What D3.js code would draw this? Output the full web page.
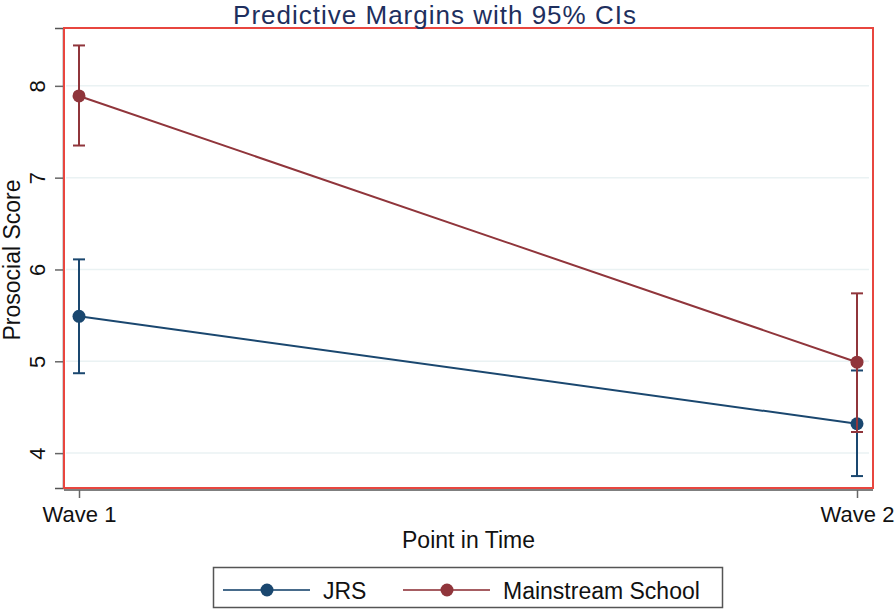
<!DOCTYPE html>
<html>
<head>
<meta charset="utf-8">
<script src="https://cdn.jsdelivr.net/npm/d3@7"></script>
<style>
  body { margin: 0; background: #fff; }
  text { font-family: "Liberation Sans", Arial, sans-serif; }
</style>
</head>
<body>
<div id="chart"></div>
<script>
// data
var waves = ['Wave 1', 'Wave 2'];
var seriesNames = ['JRS', 'Mainstream School'];
var jrsMean = [5.49, 4.32];
var jrsLow = [4.87, 3.75];
var jrsHigh = [6.11, 4.90];
var msMean = [7.89, 4.99];
var msLow = [7.35, 4.23];
var msHigh = [8.44, 5.74];
var yTicks = [4, 5, 6, 7, 8];

var colors = ['#1a476f', '#90353b'];

var width = 896, height = 612;
var box = { left: 64, right: 873, top: 28, bottom: 488 };

var svg = d3.select('#chart').append('svg')
    .attr('width', width)
    .attr('height', height);

var x = d3.scalePoint()
    .domain(waves)
    .range([79, 857]);

var y = d3.scaleLinear()
    .domain([3.62, 8.63])
    .range([box.bottom, box.top]);

// gridlines
svg.append('g')
    .selectAll('line')
    .data(yTicks)
    .enter().append('line')
    .attr('x1', box.left + 2)
    .attr('x2', box.right - 4)
    .attr('y1', function (d) { return y(d); })
    .attr('y2', function (d) { return y(d); })
    .attr('stroke', '#eaf2f3')
    .attr('stroke-width', 1.5);

// y axis
var yAxis = svg.append('g')
    .attr('transform', 'translate(' + (box.left - 1) + ',0)')
    .call(d3.axisLeft(y).tickValues(yTicks).tickFormat(d3.format('d')).tickSize(8));
yAxis.select('.domain').attr('stroke', '#555').attr('stroke-width', 1.5);
yAxis.selectAll('.tick line').attr('stroke', '#666').attr('stroke-width', 1.5);
yAxis.selectAll('.tick text')
    .attr('font-size', 22)
    .attr('fill', '#111')
    .attr('transform', 'rotate(-90)')
    .attr('x', 0)
    .attr('y', -18)
    .attr('dy', 0)
    .attr('text-anchor', 'middle');

// x axis
var xAxis = svg.append('g')
    .attr('transform', 'translate(0,' + (box.bottom + 2) + ')')
    .call(d3.axisBottom(x).tickSize(8).tickPadding(8));
xAxis.select('.domain').attr('d', 'M' + box.left + ',0H' + box.right).attr('stroke', '#555').attr('stroke-width', 1.5);
xAxis.selectAll('.tick line').attr('stroke', '#666').attr('stroke-width', 1.5);
xAxis.selectAll('.tick text')
    .attr('font-size', 22)
    .attr('fill', '#111');

// red plot frame
svg.append('rect')
    .attr('x', box.left)
    .attr('y', box.top)
    .attr('width', box.right - box.left)
    .attr('height', box.bottom - box.top)
    .attr('fill', 'none')
    .attr('stroke', '#e8463f')
    .attr('stroke-width', 2);

var series = [
    { name: seriesNames[0], mean: jrsMean, low: jrsLow, high: jrsHigh, color: colors[0] },
    { name: seriesNames[1], mean: msMean, low: msLow, high: msHigh, color: colors[1] }
];

var line = d3.line()
    .x(function (d, i) { return x(waves[i]); })
    .y(function (d) { return y(d); });

series.forEach(function (s) {
    var g = svg.append('g');
    g.append('path')
        .attr('d', line(s.mean))
        .attr('fill', 'none')
        .attr('stroke', s.color)
        .attr('stroke-width', 2);
    waves.forEach(function (w, i) {
        var cx = x(w);
        g.append('line')
            .attr('x1', cx).attr('x2', cx)
            .attr('y1', y(s.low[i])).attr('y2', y(s.high[i]))
            .attr('stroke', s.color).attr('stroke-width', 2);
        [s.low[i], s.high[i]].forEach(function (v) {
            g.append('line')
                .attr('x1', cx - 6).attr('x2', cx + 6)
                .attr('y1', y(v)).attr('y2', y(v))
                .attr('stroke', s.color).attr('stroke-width', 2);
        });
    });
    g.selectAll('circle')
        .data(s.mean)
        .enter().append('circle')
        .attr('cx', function (d, i) { return x(waves[i]); })
        .attr('cy', function (d) { return y(d); })
        .attr('r', 6.5)
        .attr('fill', s.color);
});

// title
svg.append('text')
    .attr('x', 435)
    .attr('y', 24)
    .attr('text-anchor', 'middle')
    .attr('font-size', 26)
    .attr('letter-spacing', 1)
    .attr('fill', '#1e2f5e')
    .text('Predictive Margins with 95% CIs');

// axis titles
svg.append('text')
    .attr('x', (box.left + box.right) / 2)
    .attr('y', 548)
    .attr('text-anchor', 'middle')
    .attr('font-size', 23)
    .attr('fill', '#111')
    .text('Point in Time');

svg.append('text')
    .attr('transform', 'translate(20,' + ((box.top + box.bottom) / 2 + 2) + ') rotate(-90)')
    .attr('text-anchor', 'middle')
    .attr('font-size', 23)
    .attr('fill', '#111')
    .text('Prosocial Score');

// legend
var legend = svg.append('g');
legend.append('rect')
    .attr('x', 213.5)
    .attr('y', 567.5)
    .attr('width', 509)
    .attr('height', 40)
    .attr('fill', '#fff')
    .attr('stroke', '#555')
    .attr('stroke-width', 1.5);

var legendItems = [
    { x0: 223, tx: 323 },
    { x0: 403, tx: 503 }
];
series.forEach(function (s, i) {
    var it = legendItems[i];
    legend.append('line')
        .attr('x1', it.x0).attr('x2', it.x0 + 87)
        .attr('y1', 590).attr('y2', 590)
        .attr('stroke', s.color).attr('stroke-width', 2).attr('opacity', 0.8);
    legend.append('circle')
        .attr('cx', it.x0 + 44).attr('cy', 590)
        .attr('r', 6.5).attr('fill', s.color);
    legend.append('text')
        .attr('x', it.tx).attr('y', 599)
        .attr('font-size', 23)
        .attr('fill', '#111')
        .text(s.name);
});
</script>
</body>
</html>
